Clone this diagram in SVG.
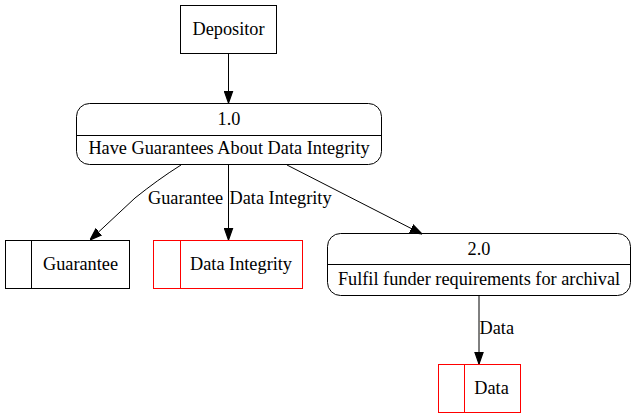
<svg xmlns="http://www.w3.org/2000/svg" width="636" height="419" viewBox="0 0 636 419">
<style>
text{font-family:"Liberation Serif","Times New Roman",serif;font-size:18.3px;fill:#000}
.n{fill:none;stroke:#000;stroke-width:1}
.r{fill:none;stroke:#ff0000;stroke-width:1}
.e{fill:none;stroke:#000;stroke-width:1;marker-end:url(#arr)}
</style>
<defs>
<marker id="arr" markerUnits="userSpaceOnUse" markerWidth="12" markerHeight="10" refX="10" refY="3.5" orient="auto" viewBox="0 0 10 7">
<polygon points="0,0 10,3.5 0,7" fill="#000" stroke="#000"/>
</marker>
</defs>
<rect width="636" height="419" fill="#fff"/>
<g font-family="Liberation Serif, Times New Roman, serif" font-size="18.3">
<g id="depositor">
<rect class="n" x="180.5" y="5.5" width="96" height="48"/>
<text x="228.5" y="34.5" text-anchor="middle">Depositor</text>
</g>
<g id="p1">
<rect class="n" x="76.5" y="103.5" width="305" height="61" rx="13" ry="13"/>
<line class="n" x1="76.5" y1="135.5" x2="381.5" y2="135.5"/>
<text x="229" y="124.5" text-anchor="middle">1.0</text>
<text x="229" y="153.5" text-anchor="middle">Have Guarantees About Data Integrity</text>
</g>
<g id="guarantee">
<rect class="n" x="5.5" y="240.5" width="124" height="48"/>
<line class="n" x1="31.5" y1="240.5" x2="31.5" y2="288.5"/>
<text x="80.5" y="270" text-anchor="middle">Guarantee</text>
</g>
<g id="dataintegrity">
<rect class="r" x="153.5" y="240.5" width="149" height="48"/>
<line class="r" x1="180.5" y1="240.5" x2="180.5" y2="288.5"/>
<text x="241" y="270" text-anchor="middle">Data Integrity</text>
</g>
<g id="p2">
<rect class="n" x="327.5" y="233.5" width="303" height="62" rx="13" ry="13"/>
<line class="n" x1="327.5" y1="264.5" x2="630.5" y2="264.5"/>
<text x="479" y="254.5" text-anchor="middle">2.0</text>
<text x="479" y="285" text-anchor="middle">Fulfil funder requirements for archival</text>
</g>
<g id="data">
<rect class="r" x="438.5" y="364.5" width="82" height="48"/>
<line class="r" x1="464.5" y1="364.5" x2="464.5" y2="412.5"/>
<text x="491.5" y="394" text-anchor="middle">Data</text>
</g>
<g id="connectors">
<line class="e" x1="228.5" y1="53.5" x2="228.5" y2="103"/>
<path class="e" d="M181,165 C165,175 150,186 135,198 L90,240"/>
<text x="148" y="204">Guarantee</text>
<line class="e" x1="228.5" y1="164.5" x2="228.5" y2="240"/>
<text x="229.5" y="204">Data Integrity</text>
<line class="e" x1="287" y1="165" x2="422" y2="234"/>
<line class="e" x1="479" y1="296" x2="479" y2="364"/>
<text x="479.5" y="334">Data</text>
</g>
</g>
</svg>
